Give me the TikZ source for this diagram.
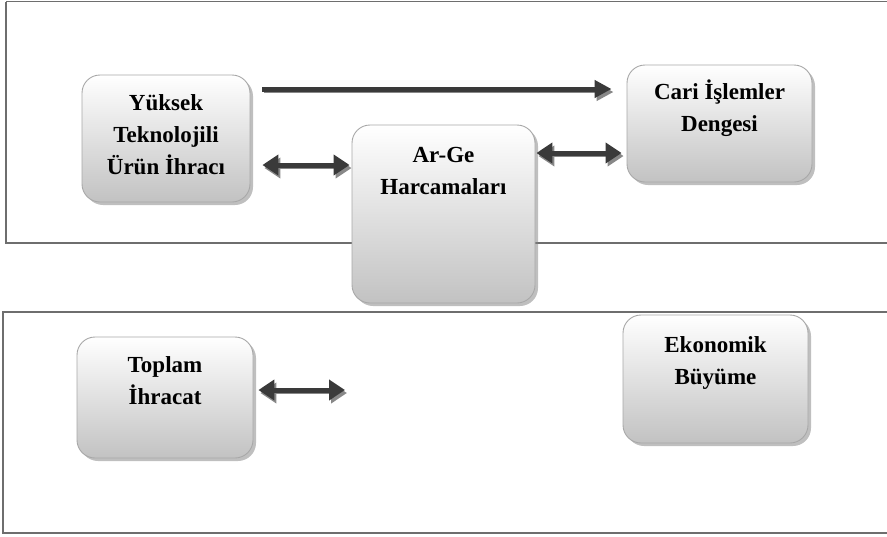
\documentclass[tikz,border=0pt]{standalone}
\usepackage{fontspec}
\setmainfont{Liberation Serif}
\usetikzlibrary{arrows.meta,shadows,calc}
\definecolor{arrdark}{HTML}{3A3A3A}
\definecolor{arrshade}{HTML}{888888}
\definecolor{frameline}{HTML}{6E6E6E}
\definecolor{boxline}{HTML}{A8A8A8}
\definecolor{boxbottom}{HTML}{C2C2C2}
\tikzset{
  frame/.style={draw=frameline, line width=1.5pt},
  gbox/.style={draw=boxline, line width=0.9pt, rounded corners=18pt,
    top color=white, bottom color=boxbottom, inner sep=0pt,
    drop shadow={shadow xshift=3pt, shadow yshift=-3pt, opacity=0.5, fill=gray}},
  btext/.style={anchor=north, inner sep=0pt, align=center,
    font=\bfseries\fontsize{23}{32}\selectfont},
  bigarrow/.style={draw=arrdark, line width=5pt,
    -{Triangle[length=17pt,width=17pt]},
    preaction={draw=arrshade, transform canvas={xshift=2pt,yshift=-3pt}}},
  dblarrow/.style={draw=arrdark, line width=5pt,
    {Triangle[length=16pt,width=20pt]}-{Triangle[length=16pt,width=20pt]},
    preaction={draw=arrshade, transform canvas={xshift=2pt,yshift=-3pt}}}
}
\newcommand{\firstline}{\rule{0pt}{20pt}}
\begin{document}
\begin{tikzpicture}[x=1pt,y=-1pt]
\useasboundingbox (0,0) rectangle (887,536);
% frames
\draw[frame] (6,1.5) -- (900,1.5) (6,1.5) -- (6,243) -- (900,243);
\draw[frame] (900,312) -- (3,312) -- (3,533) -- (900,533);
% boxes
\node[gbox, minimum width=168pt, minimum height=127pt] (yuk) at (166,138.5) {};
\node[gbox, minimum width=183pt, minimum height=178pt] (arge) at (443.5,214) {};
\node[gbox, minimum width=185pt, minimum height=117pt] (cari) at (719.5,123.5) {};
\node[gbox, minimum width=176pt, minimum height=121pt] (toplam) at (165,397.5) {};
\node[gbox, minimum width=185pt, minimum height=128pt] (eko) at (715.5,379) {};
% texts
\node[btext] (tyuk) at ($(yuk.north)+(0,16)$) {\firstline Yüksek\\Teknolojili\\Ürün İhracı};
\node[btext] (targe) at ($(arge.north)+(0,18)$) {\firstline Ar-Ge\\Harcamaları};
\node[btext] (tcari) at ($(cari.north)+(0,15)$) {\firstline Cari İşlemler\\Dengesi};
\node[btext] (ttoplam) at ($(toplam.north)+(0,16)$) {\firstline Toplam\\İhracat};
\node[btext] (teko) at ($(eko.north)+(0,18)$) {\firstline Ekonomik\\Büyüme};
% connectors
\coordinate (l1) at (0,89);
\coordinate (l2) at (0,165);
\coordinate (l3) at (0,153);
\coordinate (tfree) at (345,390);
\draw[bigarrow, shorten <=12pt, shorten >=15pt] (yuk.east |- l1) -- (cari.west |- l1);
\draw[dblarrow, shorten <=12pt, shorten >=2pt] (yuk.east |- l2) -- (arge.west |- l2);
\draw[dblarrow, shorten <=1pt, shorten >=5pt] (arge.east |- l3) -- (cari.west |- l3);
\draw[dblarrow, shorten <=5pt] (toplam.east |- tfree) -- (tfree);
\end{tikzpicture}
\end{document}
